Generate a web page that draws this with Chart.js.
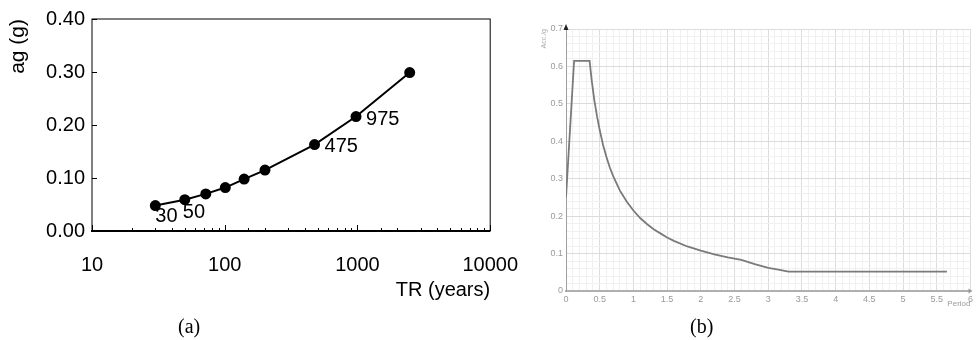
<!DOCTYPE html>
<html>
<head>
<meta charset="utf-8">
<script src="https://cdn.jsdelivr.net/npm/chart.js@4.4.1/dist/chart.umd.min.js"></script>
<style>
  body { margin: 0; background: #fff; }
  #wrap { position: relative; width: 976px; height: 340px; }
  canvas { position: absolute; top: 0; }
  .cap { position: absolute; font-family: "Liberation Serif", "Times New Roman", serif; font-size: 20px; color: #000; }
</style>
</head>
<body>
<div id="wrap">
  <canvas id="chartA" width="540" height="340" style="left:0"></canvas>
  <canvas id="chartB" width="436" height="340" style="left:540px"></canvas>
  <div class="cap" style="left:178px; top:315px">(a)</div>
  <div class="cap" style="left:690px; top:315px">(b)</div>
</div>
<script>
// (a) hazard curve: return period vs ag
var returnPeriods = [30, 50, 72, 101, 140, 201, 475, 975, 2475];
var agValues = [0.048, 0.059, 0.070, 0.082, 0.098, 0.115, 0.163, 0.216, 0.299];
var pointLabels = ['30', '50', '', '', '', '', '475', '975', ''];
var yTicksA = [0, 0.1, 0.2, 0.3, 0.4];

// (b) response spectrum
var periods = [0, 0.12, 0.35, 0.38, 0.42, 0.46, 0.5, 0.55, 0.6, 0.65, 0.7, 0.8, 0.9, 1.0, 1.1, 1.2, 1.3, 1.4, 1.5, 1.6, 1.8, 2.0, 2.2, 2.4, 2.6, 2.8, 3.0, 3.15, 3.3, 5.65];
var spectrum = [0.25, 0.615, 0.615, 0.565, 0.51, 0.467, 0.43, 0.39, 0.358, 0.33, 0.307, 0.268, 0.239, 0.215, 0.195, 0.179, 0.165, 0.154, 0.143, 0.134, 0.119, 0.108, 0.098, 0.09, 0.083, 0.072, 0.062, 0.057, 0.052, 0.052];

Chart.defaults.font.family = '"Liberation Sans", Arial, sans-serif';
Chart.defaults.animation = false;

// box, inner tick marks and point labels for chart (a)
var frameA = {
    id: 'frameA',
    afterDraw: function(chart) {
        var ctx = chart.ctx;
        var area = chart.chartArea;
        var x = chart.scales.x, y = chart.scales.y;
        ctx.save();
        ctx.strokeStyle = '#000';
        ctx.lineWidth = 1;
        ctx.strokeRect(area.left, area.top, area.right - area.left, area.bottom - area.top);
        ctx.lineWidth = 2;
        ctx.beginPath();
        ctx.moveTo(area.left - 1, area.bottom);
        ctx.lineTo(area.right, area.bottom);
        ctx.stroke();
        ctx.lineWidth = 1;
        x.ticks.forEach(function(t) {
            var px = Math.round(x.getPixelForValue(t.value)) + 0.5;
            var major = Math.abs(Math.log10(t.value) - Math.round(Math.log10(t.value))) < 1e-6;
            ctx.beginPath();
            ctx.moveTo(px, area.bottom);
            ctx.lineTo(px, area.bottom - (major ? 6 : 3));
            ctx.stroke();
        });
        y.ticks.forEach(function(t) {
            var py = Math.round(y.getPixelForValue(t.value)) + 0.5;
            ctx.beginPath();
            ctx.moveTo(area.left, py);
            ctx.lineTo(area.left + 5, py);
            ctx.stroke();
        });
        // point labels
        var offs = [[0, 11], [-2, 13], null, null, null, null, [10, 2], [10, 3], null];
        ctx.fillStyle = '#000';
        ctx.font = '20px "Liberation Sans", Arial, sans-serif';
        ctx.textBaseline = 'middle';
        ctx.textAlign = 'left';
        pointLabels.forEach(function(lbl, i) {
            if (!lbl) return;
            var px = x.getPixelForValue(returnPeriods[i]);
            var py = y.getPixelForValue(agValues[i]);
            ctx.fillText(lbl, px + offs[i][0], py + offs[i][1]);
        });
        ctx.restore();
    }
};

new Chart(document.getElementById('chartA'), {
    type: 'scatter',
    data: {
        datasets: [{
            data: returnPeriods.map(function(t, i) { return { x: t, y: agValues[i] }; }),
            showLine: true,
            borderColor: '#000',
            borderWidth: 2,
            backgroundColor: '#000',
            pointRadius: 4.5,
            pointHoverRadius: 4.5,
            clip: false
        }]
    },
    options: {
        responsive: false,
        layout: { padding: { left: 0, top: 17, right: 48, bottom: 0 } },
        plugins: { legend: { display: false }, tooltip: { enabled: false } },
        scales: {
            x: {
                type: 'logarithmic',
                min: 10,
                max: 10000,
                grid: { display: false, drawTicks: false },
                border: { display: false },
                ticks: {
                    autoSkip: false,
                    maxRotation: 0,
                    padding: 22,
                    color: '#000',
                    font: { size: 20 },
                    callback: function(v) {
                        var l = Math.log10(v);
                        return Math.abs(l - Math.round(l)) < 1e-6 ? String(v) : '';
                    }
                },
                title: {
                    display: true,
                    text: 'TR (years)',
                    align: 'end',
                    color: '#000',
                    font: { size: 20 },
                    padding: { top: 0, bottom: 38 }
                },
                afterFit: function(s) { s.height = 109; }
            },
            y: {
                min: 0,
                max: 0.4,
                afterBuildTicks: function(s) { s.ticks = yTicksA.map(function(v) { return { value: v }; }); },
                grid: { display: false, drawTicks: false },
                border: { display: false },
                ticks: {
                    padding: 7,
                    color: '#000',
                    font: { size: 20 },
                    callback: function(v) { return v.toFixed(2); }
                },
                title: {
                    display: true,
                    text: 'ag (g)',
                    align: 'end',
                    color: '#000',
                    font: { size: 21 },
                    padding: { top: 6, bottom: 0 }
                },
                afterFit: function(s) { s.width = 92; }
            }
        }
    },
    plugins: [frameA]
});

// arrows on the axes of chart (b)
var arrowsB = {
    id: 'arrowsB',
    afterDraw: function(chart) {
        var ctx = chart.ctx;
        var area = chart.chartArea;
        ctx.save();
        ctx.fillStyle = '#222';
        ctx.beginPath();
        ctx.moveTo(area.left - 2.5, area.top + 1);
        ctx.lineTo(area.left + 2.5, area.top + 1);
        ctx.lineTo(area.left, area.top - 5);
        ctx.closePath();
        ctx.fill();
        ctx.fillStyle = '#999';
        ctx.beginPath();
        ctx.moveTo(area.right - 2, area.bottom - 2.5);
        ctx.lineTo(area.right - 2, area.bottom + 2.5);
        ctx.lineTo(area.right + 2, area.bottom);
        ctx.closePath();
        ctx.fill();
        ctx.restore();
    }
};

function isMajor(v, step) {
    return Math.abs(v / step - Math.round(v / step)) < 1e-6;
}

new Chart(document.getElementById('chartB'), {
    type: 'scatter',
    data: {
        datasets: [{
            data: periods.map(function(t, i) { return { x: t, y: spectrum[i] }; }),
            showLine: true,
            borderColor: '#7a7a7a',
            borderWidth: 1.8,
            pointRadius: 0,
            tension: 0
        }]
    },
    options: {
        responsive: false,
        layout: { padding: { left: 0, top: 29, right: 2, bottom: 0 } },
        plugins: { legend: { display: false }, tooltip: { enabled: false } },
        scales: {
            x: {
                min: 0,
                max: 6,
                grid: {
                    drawTicks: false,
                    color: function(c) { return isMajor(c.tick.value, 0.5) ? '#dcdcdc' : '#f0f0f0'; }
                },
                border: { color: '#b0b0b0', width: 2 },
                ticks: {
                    stepSize: 0.1,
                    autoSkip: false,
                    maxRotation: 0,
                    padding: 3,
                    color: '#9a9a9a',
                    font: { size: 9 },
                    callback: function(v) { return isMajor(v, 0.5) ? String(Math.round(v * 10) / 10) : ''; }
                },
                title: {
                    display: true,
                    text: 'Period',
                    align: 'end',
                    color: '#9a9a9a',
                    font: { size: 8 },
                    padding: { top: 0, bottom: 31 }
                },
                afterFit: function(s) { s.height = 49; }
            },
            y: {
                min: 0,
                max: 0.7,
                grid: {
                    drawTicks: false,
                    color: function(c) { return isMajor(c.tick.value, 0.1) ? '#dcdcdc' : '#f0f0f0'; }
                },
                border: { color: '#a0a0a0', width: 1 },
                ticks: {
                    stepSize: 0.02,
                    autoSkip: false,
                    padding: 3,
                    color: '#9a9a9a',
                    font: { size: 9 },
                    callback: function(v) { return isMajor(v, 0.1) ? String(Math.round(v * 10) / 10) : ''; }
                },
                title: {
                    display: true,
                    text: 'Acc./g',
                    align: 'end',
                    color: '#aaa',
                    font: { size: 7 },
                    padding: { top: 0, bottom: 0 }
                },
                afterFit: function(s) { s.width = 26; }
            }
        }
    },
    plugins: [arrowsB]
});
</script>
</body>
</html>
